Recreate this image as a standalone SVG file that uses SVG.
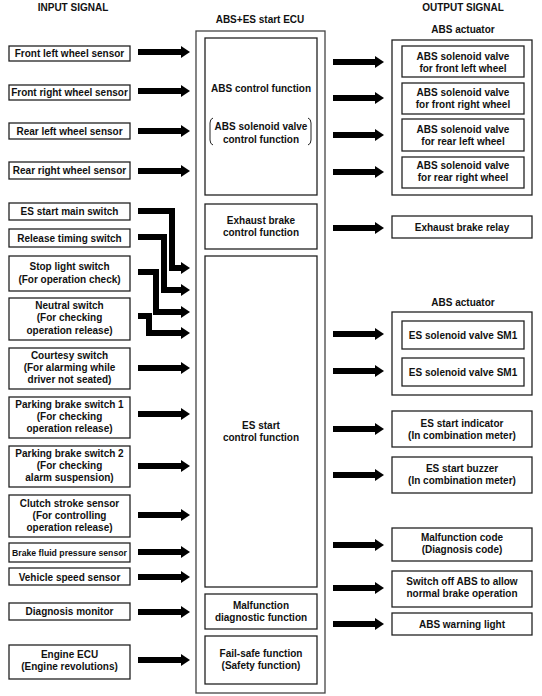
<svg xmlns="http://www.w3.org/2000/svg" width="542" height="696" viewBox="0 0 542 696">
<defs>
<marker id="ah" markerUnits="userSpaceOnUse" markerWidth="9" markerHeight="12" viewBox="0 0 9 12" refX="0" refY="6" orient="auto">
<path d="M0,0 L9,6 L0,12 Z" fill="#000"/>
</marker>
</defs>
<style>
rect{fill:#fff;stroke:#222;stroke-width:1.3}
text{font-family:"Liberation Sans",Arial,Helvetica,sans-serif;font-weight:bold;font-size:10px;fill:#111;text-anchor:middle}
.c path,.c line,.c polyline{stroke:#000;stroke-width:6;fill:none;marker-end:url(#ah);stroke-linejoin:miter}
.br{fill:none;stroke:#222;stroke-width:1}
</style>
<rect width="542" height="696" style="fill:#fff;stroke:none"/>

<text x="73" y="11">INPUT SIGNAL</text>
<text x="463" y="11">OUTPUT SIGNAL</text>

<!-- Inputs -->
<g id="in-fl"><rect x="9" y="46" width="121" height="15"/><text x="69.5" y="56.5">Front left wheel sensor</text></g>
<g id="in-fr"><rect x="9" y="85" width="121" height="15"/><text x="69.5" y="95.5">Front right wheel sensor</text></g>
<g id="in-rl"><rect x="9" y="123" width="121" height="16"/><text x="69.5" y="134.5">Rear left wheel sensor</text></g>
<g id="in-rr"><rect x="9" y="162" width="121" height="17"/><text x="69.5" y="174">Rear right wheel sensor</text></g>
<g id="in-esmain"><rect x="9" y="203" width="121" height="17"/><text x="69.5" y="215">ES start main switch</text></g>
<g id="in-release"><rect x="9" y="229" width="121" height="18"/><text x="69.5" y="241.5">Release timing switch</text></g>
<g id="in-stop"><rect x="9" y="256" width="121" height="35"/><text x="69.5" y="270">Stop light switch</text><text x="69.5" y="282.5">(For operation check)</text></g>
<g id="in-neutral"><rect x="9" y="298" width="121" height="42"/><text x="69.5" y="308.5">Neutral switch</text><text x="69.5" y="321">(For checking</text><text x="69.5" y="333.5">operation release)</text></g>
<g id="in-courtesy"><rect x="9" y="348" width="121" height="41"/><text x="69.5" y="359">Courtesy switch</text><text x="69.5" y="371">(For alarming while</text><text x="69.5" y="383">driver not seated)</text></g>
<g id="in-pb1"><rect x="9" y="397" width="121" height="41"/><text x="69.5" y="408">Parking brake switch 1</text><text x="69.5" y="420">(For checking</text><text x="69.5" y="432">operation release)</text></g>
<g id="in-pb2"><rect x="9" y="446" width="121" height="41"/><text x="69.5" y="457">Parking brake switch 2</text><text x="69.5" y="469">(For checking</text><text x="69.5" y="481">alarm suspension)</text></g>
<g id="in-clutch"><rect x="9" y="495" width="121" height="42"/><text x="69.5" y="507">Clutch stroke sensor</text><text x="69.5" y="519">(For controlling</text><text x="69.5" y="531">operation release)</text></g>
<g id="in-bfp"><rect x="9" y="543" width="121" height="19"/><text x="69.5" y="556" style="font-size:8.7px">Brake fluid pressure sensor</text></g>
<g id="in-vss"><rect x="9" y="568" width="121" height="17"/><text x="69.5" y="580.5">Vehicle speed sensor</text></g>
<g id="in-diag"><rect x="9" y="603" width="121" height="17"/><text x="69.5" y="615">Diagnosis monitor</text></g>
<g id="in-eng"><rect x="9" y="645" width="121" height="34"/><text x="69.5" y="658">Engine ECU</text><text x="69.5" y="670">(Engine revolutions)</text></g>

<!-- ECU -->
<g id="ecu">
<text x="260" y="23">ABS+ES start ECU</text>
<rect x="196" y="31" width="129" height="662" style="stroke:#444"/>
</g>
<g id="f-abs"><rect x="205" y="38" width="112" height="157"/>
<text x="261" y="92">ABS control function</text>
<text x="261" y="130">ABS solenoid valve</text>
<text x="261" y="142.5">control function</text>
<path class="br" d="M213,118 Q210,119 210,123 V140 Q210,144 213,145"/>
<path class="br" d="M308,118 Q311,119 311,123 V140 Q311,144 308,145"/>
</g>
<g id="f-exh"><rect x="205" y="204" width="112" height="45"/><text x="261" y="224">Exhaust brake</text><text x="261" y="236">control function</text></g>
<g id="f-es"><rect x="205" y="256" width="112" height="331"/><text x="261" y="429">ES start</text><text x="261" y="441">control function</text></g>
<g id="f-mal"><rect x="205" y="594" width="112" height="35"/><text x="261" y="608.5">Malfunction</text><text x="261" y="621">diagnostic function</text></g>
<g id="f-fs"><rect x="205" y="636" width="112" height="48"/><text x="261" y="656.5">Fail-safe function</text><text x="261" y="668.5">(Safety function)</text></g>

<!-- Outputs -->
<g id="act1">
<text x="463" y="33">ABS actuator</text>
<rect x="392" y="40" width="140" height="155"/>
</g>
<g id="o-fl"><rect x="402" y="46" width="122" height="31"/><text x="463" y="60">ABS solenoid valve</text><text x="463" y="72">for front left wheel</text></g>
<g id="o-fr"><rect x="402" y="83" width="122" height="31"/><text x="463" y="96">ABS solenoid valve</text><text x="463" y="108">for front right wheel</text></g>
<g id="o-rl"><rect x="402" y="119" width="122" height="32"/><text x="463" y="133">ABS solenoid valve</text><text x="463" y="145">for rear left wheel</text></g>
<g id="o-rr"><rect x="402" y="157" width="122" height="31"/><text x="463" y="169">ABS solenoid valve</text><text x="463" y="181">for rear right wheel</text></g>
<g id="o-exh"><rect x="392" y="216" width="140" height="22"/><text x="462" y="231">Exhaust brake relay</text></g>
<g id="act2">
<text x="463" y="306">ABS actuator</text>
<rect x="392" y="312" width="140" height="83"/>
</g>
<g id="o-sm1a"><rect x="402" y="321" width="122" height="28"/><text x="463" y="338.5">ES solenoid valve SM1</text></g>
<g id="o-sm1b"><rect x="402" y="358" width="122" height="28"/><text x="463" y="375.5">ES solenoid valve SM1</text></g>
<g id="o-ind"><rect x="392" y="411" width="140" height="36"/><text x="462" y="427">ES start indicator</text><text x="462" y="439">(In combination meter)</text></g>
<g id="o-buz"><rect x="392" y="457" width="140" height="36"/><text x="462" y="472">ES start buzzer</text><text x="462" y="484">(In combination meter)</text></g>
<g id="o-code"><rect x="392" y="528" width="140" height="33"/><text x="462" y="541">Malfunction code</text><text x="462" y="553">(Diagnosis code)</text></g>
<g id="o-off"><rect x="392" y="571" width="140" height="36"/><text x="462" y="585">Switch off ABS to allow</text><text x="462" y="597">normal brake operation</text></g>
<g id="o-warn"><rect x="392" y="613" width="140" height="22"/><text x="462" y="627.5">ABS warning light</text></g>

<!-- Connectors -->
<g id="connectors" class="c">
<line x1="138" y1="52" x2="181" y2="52"/>
<line x1="138" y1="91" x2="181" y2="91"/>
<line x1="138" y1="131" x2="181" y2="131"/>
<line x1="138" y1="171" x2="181" y2="171"/>
<polyline points="138,211 172,211 172,268 181,268"/>
<polyline points="138,237 164,237 164,290 181,290"/>
<polyline points="138,272 156,272 156,312 181,312"/>
<polyline points="138,316 149,316 149,333 181,333"/>
<line x1="138" y1="368" x2="181" y2="368"/>
<line x1="138" y1="414" x2="181" y2="414"/>
<line x1="138" y1="466" x2="181" y2="466"/>
<line x1="138" y1="515" x2="181" y2="515"/>
<line x1="138" y1="552" x2="181" y2="552"/>
<line x1="138" y1="577" x2="181" y2="577"/>
<line x1="138" y1="612" x2="181" y2="612"/>
<line x1="138" y1="660" x2="181" y2="660"/>

<line x1="333" y1="62" x2="375" y2="62"/>
<line x1="333" y1="98" x2="375" y2="98"/>
<line x1="333" y1="135" x2="375" y2="135"/>
<line x1="333" y1="172" x2="375" y2="172"/>
<line x1="333" y1="228" x2="375" y2="228"/>
<line x1="333" y1="334" x2="375" y2="334"/>
<line x1="333" y1="371" x2="375" y2="371"/>
<line x1="333" y1="429" x2="375" y2="429"/>
<line x1="333" y1="475" x2="375" y2="475"/>
<line x1="333" y1="545" x2="375" y2="545"/>
<line x1="333" y1="588" x2="375" y2="588"/>
<line x1="333" y1="624" x2="375" y2="624"/>
</g>
</svg>
